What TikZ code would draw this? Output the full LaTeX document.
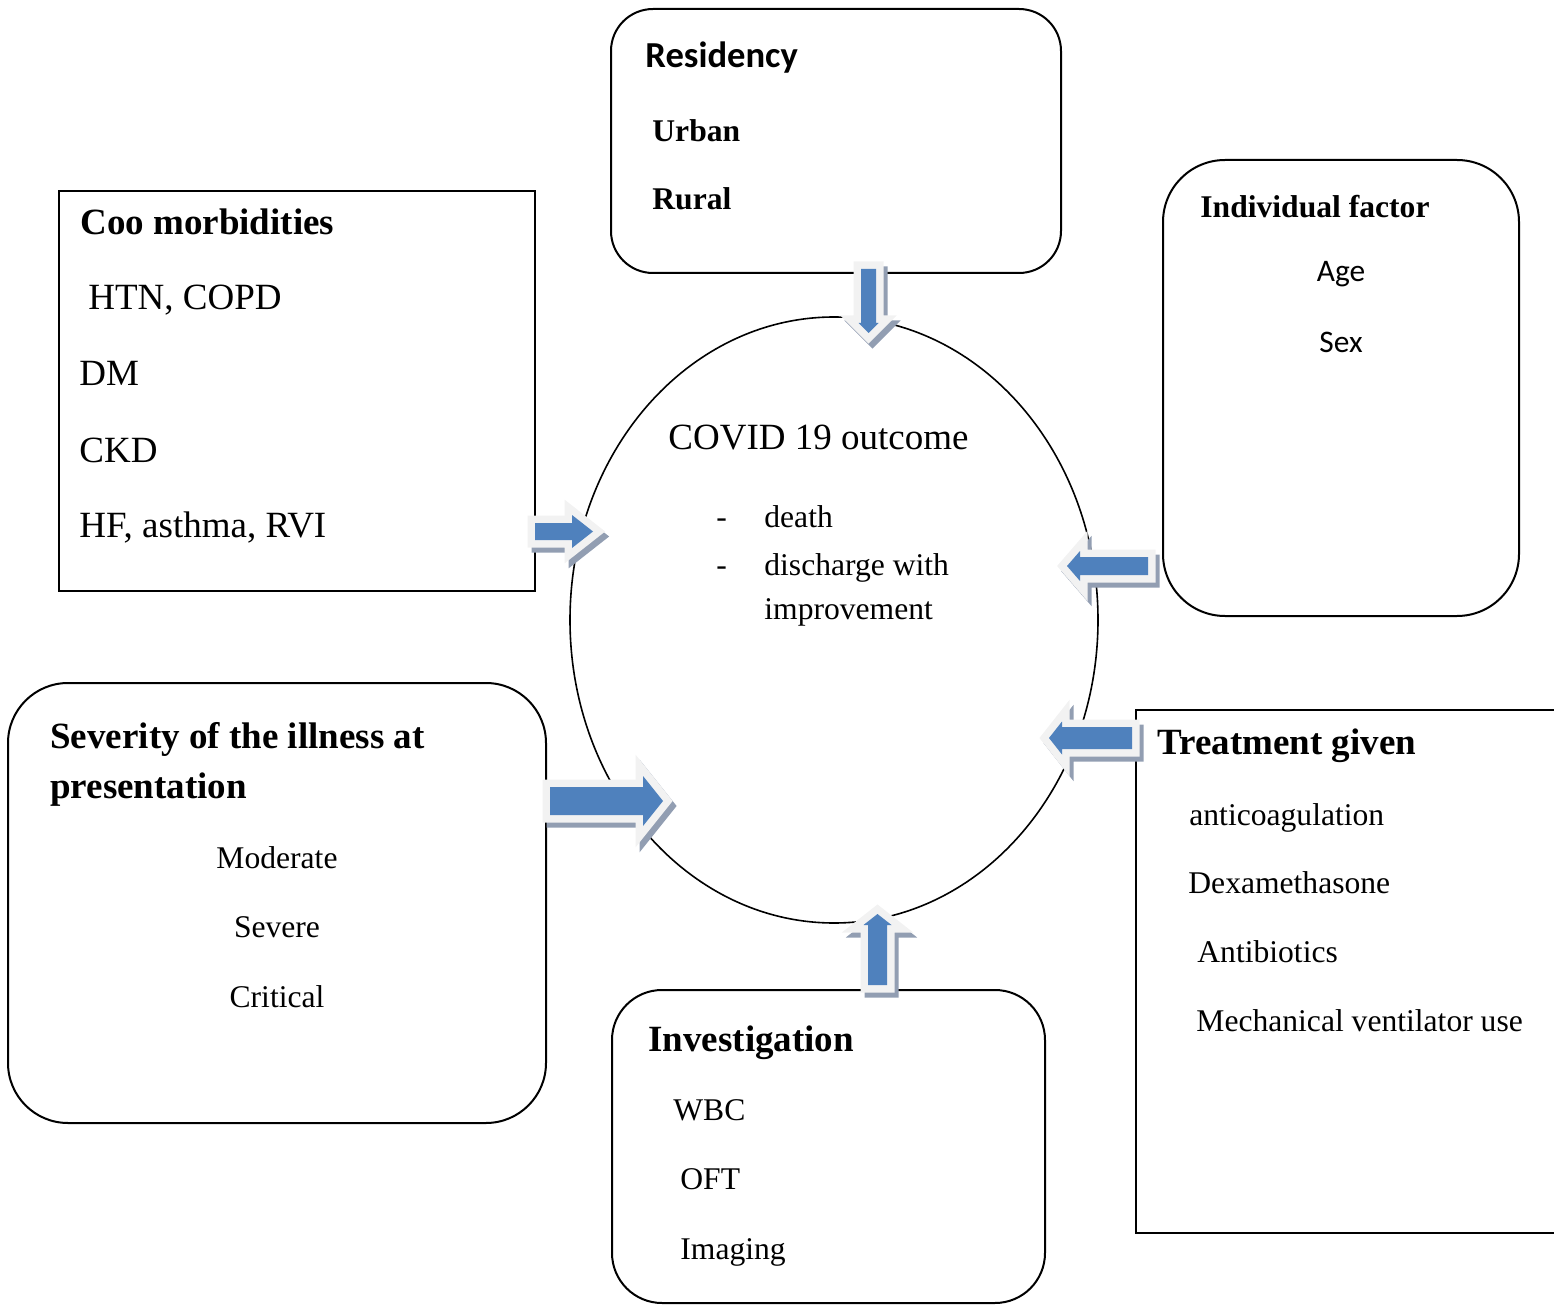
\documentclass[tikz,border=0pt]{standalone}
\usepackage{fontspec}
\setmainfont{Liberation Serif}
\newfontfamily\calibri{Carlito}
\usetikzlibrary{shapes.geometric}
\definecolor{arrblue}{RGB}{79,129,189}
\definecolor{arrrim}{RGB}{242,242,242}
\definecolor{arrshadow}{RGB}{146,158,178}
\tikzset{
  boxline/.style={draw=black, line width=1pt, inner sep=0pt},
  lbl/.style={anchor=base west, inner sep=0pt},
  lblc/.style={anchor=base, inner sep=0pt},
  fsa/.style={font=\fontsize{15.8}{18}\selectfont},
  fsab/.style={font=\fontsize{15.8}{18}\selectfont\bfseries},
  fsb/.style={font=\fontsize{18.5}{22}\selectfont},
  fsbb/.style={font=\fontsize{18.5}{22}\selectfont\bfseries},
  cala/.style={font=\fontsize{15.7}{18}\selectfont\calibri},
  calbb/.style={font=\fontsize{18.3}{22}\selectfont\calibri\bfseries},
  barrowrim/.style={fill=arrrim, draw=arrrim, line width=7.5pt, line join=miter},
  barrowfill/.style={fill=arrblue},
  bshadow/.style={fill=arrshadow, draw=arrshadow, line width=7.5pt, line join=miter, shift={(4,5)}},
}
\newcommand{\blockarrow}[1]{%
  \filldraw[bshadow] #1 -- cycle;
  \filldraw[barrowrim] #1 -- cycle;
  \fill[barrowfill] #1 -- cycle;
}
\begin{document}
\begin{tikzpicture}[x=0.5pt,y=-0.5pt]
\useasboundingbox (0,0) rectangle (1554,1305);
\clip (0,0) rectangle (1554,1305);

% central ellipse
\node[ellipse, draw=black, line width=0.8pt, minimum width=264pt, minimum height=303pt, inner sep=0pt] (out) at (834,620) {};

% boxes
\node[boxline, rectangle, rounded corners=21pt, minimum width=225pt, minimum height=132pt] (res) at (836,141) {};
\node[boxline, rectangle, rounded corners=31pt, minimum width=178pt, minimum height=228pt] (ind) at (1341,388) {};
\node[boxline, rectangle, minimum width=238pt, minimum height=200pt] (coo) at (297,391) {};
\node[boxline, rectangle, rounded corners=30pt, minimum width=269pt, minimum height=220pt] (sev) at (277,903) {};
\node[boxline, rectangle, rounded corners=25pt, minimum width=216.5pt, minimum height=156.5pt] (inv) at (828.5,1146.5) {};
\node[boxline, rectangle, minimum width=232pt, minimum height=261.5pt] (trt) at (1368,971.5) {};

% block arrows (connectors from each box to the outcome)
\blockarrow{(535,523) -- (572,523) -- (572,515) -- (593,531.5) -- (572,548) -- (572,540) -- (535,540)}
\blockarrow{(1148,557) -- (1080,557) -- (1080,551) -- (1067,566) -- (1080,581) -- (1080,575) -- (1148,575)}
\blockarrow{(1132,727) -- (1062,727) -- (1062,721.5) -- (1049,738) -- (1062,754.5) -- (1062,749) -- (1132,749)}
\blockarrow{(550,787) -- (643,787) -- (643,776) -- (663,801) -- (643,826) -- (643,815) -- (550,815)}
\blockarrow{(861,269) -- (861,323) -- (858.5,323) -- (868.5,333) -- (878.5,323) -- (876,323) -- (876,269)}
\blockarrow{(868,985) -- (868,925) -- (863.5,925) -- (877.5,914) -- (891.5,925) -- (887,925) -- (887,985)}

% Residency
\node[lbl, calbb] (resT) at (645,68) {Residency};
\node[lbl, fsab] (res1) at (652,142) {Urban};
\node[lbl, fsab] (res2) at (652,210) {Rural};

% Individual factor
\node[lbl, fsab] (indT) at (1200,218) {Individual factor};
\node[lblc, cala] (ind1) at (1341,282) {Age};
\node[lblc, cala] (ind2) at (1341,353) {Sex};

% Coo morbidities
\node[lbl, fsbb] (cooT) at (80,235) {Coo morbidities};
\node[lbl, fsb] (coo1) at (88,310) {HTN, COPD};
\node[lbl, fsb] (coo2) at (79,386) {DM};
\node[lbl, fsb] (coo3) at (79,462) {CKD};
\node[lbl, fsb] (coo4) at (79,538) {HF, asthma, RVI};

% Outcome
\node[lbl, fsb] (outT) at (668,450) {COVID 19 outcome};
\node[lbl, fsa] (d1) at (716,527) {-};
\node[lbl, fsa] (o1) at (764,527) {death};
\node[lbl, fsa] (d2) at (716,575) {-};
\node[lbl, fsa] (o2) at (764,575) {discharge with};
\node[lbl, fsa] (o3) at (764,619) {improvement};

% Severity
\node[lbl, fsbb] (sevT1) at (50,748) {Severity of the illness at};
\node[lbl, fsbb] (sevT2) at (50,798) {presentation};
\node[lblc, fsa] (sev1) at (277,868) {Moderate};
\node[lblc, fsa] (sev2) at (277,937) {Severe};
\node[lblc, fsa] (sev3) at (277,1007) {Critical};

% Treatment
\node[lbl, fsbb] (trtT) at (1157,754) {Treatment given};
\node[lbl, fsa] (trt1) at (1189,825) {anticoagulation};
\node[lbl, fsa] (trt2) at (1188,893) {Dexamethasone};
\node[lbl, fsa] (trt3) at (1197,962) {Antibiotics};
\node[lbl, fsa] (trt4) at (1196,1031) {Mechanical ventilator use};

% Investigation
\node[lbl, fsbb] (invT) at (648,1051) {Investigation};
\node[lbl, fsa] (inv1) at (673,1120) {WBC};
\node[lbl, fsa] (inv2) at (680,1189) {OFT};
\node[lbl, fsa] (inv3) at (680,1259) {Imaging};
\end{tikzpicture}
\end{document}
